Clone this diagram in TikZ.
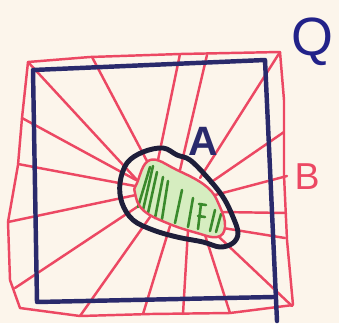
\documentclass[tikz,border=0pt]{standalone}
\usepackage{fontspec}
\newfontfamily\sketchfont{Liberation Sans}
\usepackage{tikz}
\usetikzlibrary{calc}
\definecolor{PaperCream}{HTML}{FCF5EB}
\definecolor{PenRed}{HTML}{EC4863}
\definecolor{PenNavy}{HTML}{2A2A6C}
\definecolor{PenInk}{HTML}{1E1E3A}
\definecolor{PenGreen}{HTML}{3A8A2C}
\definecolor{LeafFill}{HTML}{D6EDC0}
\tikzset{
  rayline/.style={draw=PenRed,line width=2.1pt,line cap=round},
  redrim/.style={draw=PenRed,line width=2.1pt,line join=round},
  squareline/.style={draw=PenNavy,line width=3.8pt,line join=round,line cap=round},
  blobline/.style={draw=PenInk,line width=4.2pt},
  hatchline/.style={draw=PenGreen,line width=2.2pt,line cap=round},
  sketchlabel/.style={font=\sketchfont,inner sep=0pt}
}
\begin{document}
\begin{tikzpicture}[x=0.3mm,y=-0.3mm]
\fill[PaperCream] (0,0) rectangle (339,323);
\useasboundingbox (0,0) rectangle (339,323);
% rays from the core out to the rim
\foreach \ox/\oy/\ix/\iy in {28/62/137/180, 92/57/148/163, 180/54/158/160, 207/55/180/170,
  280/52/200/178, 284/132/210/183, 287/176/215/195, 286/213/222/212, 285/238/223/228,
  292/306/218/236, 230/313/205/235, 183/314/188/230, 143/314/170/226, 80/316/150/217,
  15/288/140/205, 8/222/136/195, 18/164/135/186, 22/118/136/180}
  \draw[rayline] (\ox,\oy) -- (\ix,\iy);
% outer rim B
\draw[redrim] (28,62) -- (90,57) -- (180,54) -- (280,52) -- (284,100) -- (284,175)
  -- (287,240) -- (293,305) -- (230,313) -- (150,314) -- (80,316) -- (20,308)
  -- (10,280) -- (8,222) -- (18,165) -- (22,118) -- cycle;
% square Q
\draw[squareline] (277,321) -- (265,60) -- (33,70) -- (37,302) -- (273,297);
% core
\fill[LeafFill] plot[smooth cycle,tension=0.7] coordinates {(137,183) (150,160) (177,170)
  (207,187) (220,207) (225,227) (217,237) (197,233) (167,223) (143,210) (135,193)};
\foreach \bx/\by/\tx/\ty in {138/207/150/167, 143/210/153/166, 148/213/157/172,
  155/218/163/177, 162/219/168/181, 175/223/182/190, 188/227/193/198,
  198/229/201/204, 210/231/215/210, 216/232/221/214}
  \draw[hatchline] (\bx,\by) -- (\tx,\ty);
\draw[hatchline] (198,216) -- (205,217) (199,204) -- (206,205);
\draw[redrim] plot[smooth cycle,tension=0.7] coordinates {(137,183) (150,160) (177,170)
  (207,187) (220,207) (225,227) (217,237) (197,233) (167,223) (143,210) (135,193)};
\draw[blobline] plot[smooth cycle,tension=0.6] coordinates {(120,183) (127,163) (143,152)
  (163,148) (177,155) (190,160) (207,177) (223,197) (233,217) (238,233) (233,243)
  (220,247) (203,242) (177,237) (153,230) (133,220) (122,203)};
% labels
\node[sketchlabel,text=PenNavy,font=\sketchfont\bfseries\fontsize{35}{35}\selectfont] (labA) at (203,141) {A};
\node[sketchlabel,text=PenRed,font=\sketchfont\fontsize{32}{32}\selectfont] (labB) at (307,177) {B};
\node[sketchlabel,text=PenNavy!80!blue,font=\sketchfont\fontsize{46}{46}\selectfont] (labQ) at (312,42) {Q};
\end{tikzpicture}
\end{document}
